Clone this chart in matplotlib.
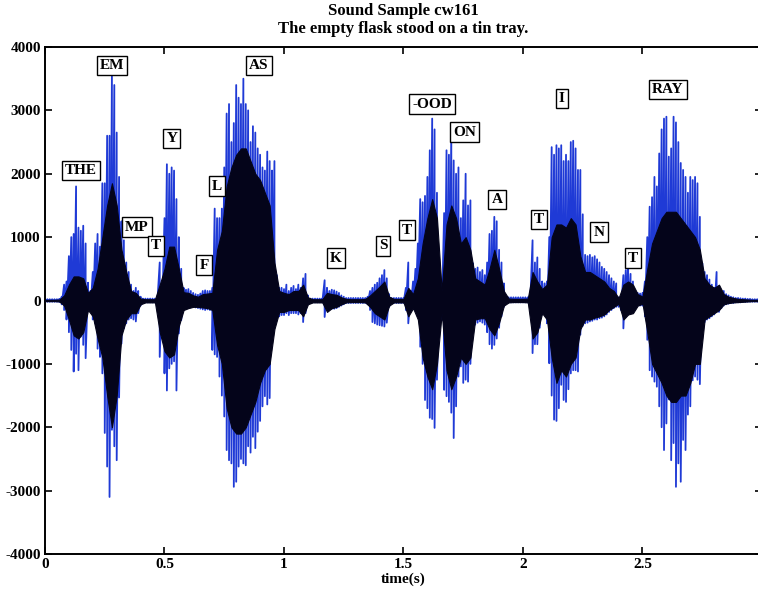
import numpy as np
import matplotlib
matplotlib.use('Agg')
import matplotlib.pyplot as plt

plt.rcParams['font.family'] = ['Liberation Serif', 'DejaVu Serif']
plt.rcParams['font.weight'] = 'bold'
plt.rcParams['axes.unicode_minus'] = False

# peak envelope of the waveform, one value per 10 ms (0.00 .. 3.00 s)
t_peak = np.round(np.arange(0, 301) * 0.01, 2)
peak_up = [
    20, 20, 20, 20, 20, 20, 25, 60, 250, 300,
    700, 1000, 1050, 1800, 1150, 1100, 1180, 900, 280, 150,
    450, 900, 1050, 850, 1850, 1850, 2600, 2600, 3600, 3400,
    2650, 1950, 1250, 950, 600, 450, 250, 150, 200, 150,
    60, 30, 30, 30, 30, 30, 30, 30, 600, 200,
    1300, 2150, 2000, 2100, 2050, 1600, 1000, 500, 200, 170,
    180, 150, 120, 100, 90, 110, 150, 160, 150, 150,
    200, 1450, 1300, 1300, 1450, 2100, 2950, 3100, 2500, 2800,
    3400, 3200, 3100, 3500, 3100, 3000, 2500, 2750, 2650, 2400,
    2300, 2100, 2050, 2350, 2200, 2050, 2200, 400, 200, 200,
    180, 250, 150, 200, 230, 180, 250, 200, 350, 420,
    80, 30, 30, 30, 30, 30, 30, 320, 200, 150,
    170, 160, 140, 120, 80, 60, 40, 40, 40, 40,
    40, 40, 40, 40, 40, 60, 150, 200, 250, 280,
    350, 400, 480, 350, 100, 40, 40, 40, 40, 40,
    40, 200, 600, 150, 300, 500, 900, 1600, 1550, 1650,
    1950, 2370, 2870, 2700, 1700, 270, 300, 1380, 2370, 2300,
    2690, 2210, 2000, 2100, 1300, 1580, 2000, 1500, 1580, 590,
    500, 520, 450, 480, 400, 600, 1050, 1100, 1320, 1250,
    800, 600, 270, 60, 50, 50, 50, 50, 50, 50,
    50, 50, 50, 100, 950, 600, 680, 500, 300, 270,
    300, 1000, 2420, 2300, 2450, 2400, 2450, 2200, 2300, 2200,
    2500, 2520, 2400, 2060, 2060, 1360, 720, 700, 720, 680,
    700, 650, 600, 530, 500, 450, 400, 350, 300, 270,
    50, 60, 400, 480, 580, 420, 300, 120, 120, 110,
    120, 300, 1000, 1480, 1630, 1950, 1800, 2320, 2700, 2870,
    2900, 2270, 2400, 2900, 2810, 2500, 2170, 2060, 1950, 1700,
    1950, 1900, 1950, 1850, 1320, 590, 450, 400, 330, 250,
    200, 450, 200, 150, 150, 100, 80, 60, 50, 40,
    40, 35, 30, 30, 25, 25, 20, 20, 20, 20,
    20,
]
peak_lo = [
    -20, -20, -20, -20, -20, -20, -25, -60, -150, -300,
    -500, -780, -1120, -840, -1100, -570, -700, -910, -120, -150,
    -300, -360, -760, -890, -1150, -2090, -2620, -3100, -2040, -2300,
    -2520, -1530, -680, -440, -360, -300, -280, -300, -330, -200,
    -80, -40, -30, -30, -30, -30, -30, -30, -890, -250,
    -1150, -1420, -1070, -1000, -960, -1420, -520, -310, -150, -130,
    -120, -110, -100, -110, -120, -130, -140, -150, -140, -150,
    -780, -850, -890, -1200, -1500, -1830, -2360, -2520, -2570, -2940,
    -2860, -2620, -2500, -2570, -2600, -2300, -2400, -2150, -2330, -2070,
    -1900, -1670, -1510, -1640, -1540, -620, -400, -260, -250, -230,
    -230, -200, -230, -200, -200, -200, -220, -200, -340, -200,
    -60, -30, -30, -30, -30, -30, -30, -260, -130, -130,
    -130, -130, -120, -100, -80, -60, -40, -40, -40, -40,
    -40, -40, -40, -40, -40, -60, -150, -340, -360, -380,
    -390, -400, -410, -350, -100, -40, -40, -40, -40, -40,
    -40, -150, -360, -130, -120, -150, -130, -730, -1000, -1570,
    -1700, -1850, -1870, -2010, -1250, -300, -310, -1410, -1510, -1600,
    -1770, -2170, -1670, -1200, -1040, -1300, -1250, -1280, -1000, -430,
    -380, -350, -330, -350, -380, -500, -690, -760, -700, -600,
    -430, -250, -100, -40, -30, -30, -30, -30, -30, -30,
    -30, -30, -30, -60, -830, -690, -690, -430, -220, -200,
    -360, -990, -1500, -1880, -1900, -1700, -1330, -1570, -1600, -1400,
    -1150, -1100, -1100, -1120, -540, -400, -360, -350, -330, -320,
    -300, -300, -280, -270, -250, -220, -180, -150, -120, -100,
    -100, -150, -440, -260, -220, -200, -180, -120, -80, -80,
    -80, -250, -620, -1100, -1200, -1280, -1360, -1670, -2000, -2360,
    -1940, -1560, -2520, -2250, -2940, -2570, -2860, -2200, -2360, -1800,
    -1670, -1260, -1200, -1250, -1320, -470, -340, -300, -280, -250,
    -220, -180, -180, -120, -80, -60, -50, -40, -40, -30,
    -30, -30, -25, -25, -20, -20, -20, -20, -20, -20,
    -20,
]

# dense dark core of the waveform, one value per 20 ms
t_core = np.round(np.arange(0, 151) * 0.02, 2)
core_up = [
    10, 10, 10, 15, 80, 250, 380, 380, 350, 120,
    200, 500, 1000, 1500, 1850, 1500, 800, 450, 150, 120,
    30, 20, 20, 20, 250, 500, 850, 850, 500, 130,
    120, 80, 60, 100, 110, 120, 800, 1100, 1800, 2100,
    2300, 2400, 2400, 2200, 2000, 1900, 1700, 1500, 600, 150,
    120, 100, 150, 150, 250, 50, 20, 20, 20, 120,
    100, 90, 50, 25, 20, 20, 20, 25, 80, 150,
    220, 300, 60, 25, 25, 25, 200, 100, 350, 900,
    1300, 1600, 1300, 150, 1200, 1500, 1300, 900, 1000, 800,
    350, 300, 250, 500, 800, 500, 150, 30, 25, 25,
    25, 30, 450, 300, 180, 250, 1000, 1200, 1200, 1150,
    1300, 1200, 700, 450, 450, 400, 350, 300, 200, 150,
    40, 250, 300, 250, 100, 60, 500, 900, 1100, 1300,
    1400, 1400, 1400, 1300, 1200, 1100, 1000, 800, 350, 250,
    200, 250, 100, 60, 40, 25, 20, 15, 10, 10,
    10,
]
core_lo = [
    -10, -10, -10, -15, -80, -300, -550, -600, -500, -150,
    -250, -600, -900, -1500, -2000, -1500, -550, -300, -200, -200,
    -60, -30, -30, -30, -500, -800, -900, -850, -400, -150,
    -120, -100, -100, -110, -120, -150, -700, -1000, -1700, -2000,
    -2100, -2100, -2000, -1800, -1600, -1300, -1100, -1000, -450, -180,
    -180, -150, -150, -150, -250, -60, -30, -30, -30, -180,
    -120, -100, -60, -30, -25, -25, -25, -30, -100, -200,
    -250, -300, -80, -30, -30, -30, -250, -120, -300, -900,
    -1200, -1400, -1000, -200, -1100, -1400, -1200, -900, -1000, -900,
    -300, -280, -280, -450, -550, -350, -80, -30, -25, -25,
    -25, -30, -600, -500, -200, -300, -900, -1300, -1100, -1200,
    -1000, -900, -450, -300, -300, -270, -250, -220, -150, -100,
    -50, -300, -220, -200, -80, -50, -500, -1000, -1150, -1300,
    -1500, -1600, -1600, -1500, -1500, -1300, -1000, -1000, -300, -250,
    -200, -150, -60, -40, -30, -25, -20, -15, -10, -10,
    -10,
]

# phoneme labels: text, time, amplitude
lab_text = ['THE', 'EM', 'MP', 'T', 'Y', 'F', 'L', 'AS', 'K', 'S', 'T',
            '-OOD', 'ON', 'A', 'T', 'I', 'N', 'T', 'RAY']
lab_t = [0.15, 0.28, 0.385, 0.464, 0.531, 0.665, 0.72, 0.895, 1.218, 1.414,
         1.515, 1.619, 1.757, 1.891, 2.067, 2.163, 2.318, 2.46, 2.607]
lab_y = [2058, 3714, 1159, 860, 2563, 560, 1806, 3714, 670, 860,
         1112, 3100, 2658, 1600, 1285, 3194, 1080, 670, 3336]

fig = plt.figure(figsize=(7.58, 5.90), dpi=100)
ax = fig.add_axes([45 / 758, 36 / 590, 717 / 758, 507 / 590])

# blue spikes: zigzag between the upper and lower peaks
zx = np.repeat(t_peak, 2)
zy = np.column_stack([peak_up, peak_lo]).ravel()
ax.plot(zx, zy, color='#1f3ad6', lw=1.3, zorder=2)
ax.fill_between(t_core, core_lo, core_up, color='#04041a', lw=0.8,
                edgecolor='#04041a', zorder=3)

for s, x, y in zip(lab_text, lab_t, lab_y):
    ax.text(x, y, s, ha='center', va='center', fontsize=11, fontweight='bold',
            zorder=5,
            bbox=dict(boxstyle='square,pad=0.2', fc='white', ec='black', lw=1))

ax.set_xlim(0, 3)
ax.set_ylim(-4000, 4000)
ax.set_xticks([0, 0.5, 1, 1.5, 2, 2.5, 3])
ax.set_xticklabels(['0', '0.5', '1', '1.5', '2', '2.5', '3'])
ax.set_yticks(range(-4000, 4001, 1000))
ax.tick_params(direction='in', length=5, width=1.2, top=True, right=True,
               labelsize=11, pad=3)
for sp in ax.spines.values():
    sp.set_linewidth(1.4)
ax.set_xlabel('time(s)', fontsize=11, fontweight='bold', labelpad=1)
ax.set_title('Sound Sample cw161\nThe empty flask stood on a tin tray.',
             fontsize=12, fontweight='bold', linespacing=1.2, pad=10)

fig.savefig('out.png', dpi=100)
